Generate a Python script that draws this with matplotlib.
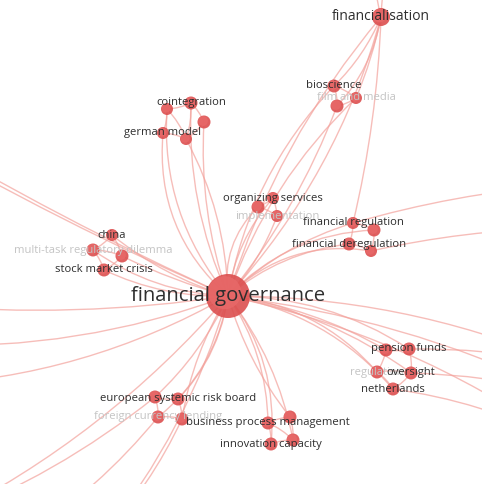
import matplotlib
matplotlib.use('Agg')
import matplotlib.pyplot as plt
from matplotlib.patches import Circle, PathPatch
from matplotlib.path import Path
import numpy as np

# VOSviewer-style map coordinates (screen units, y grows downwards)
labels = ['financial governance', 'financialisation', 'bioscience', 'film and media', '',
          'cointegration', '', '', 'german model', '',
          'organizing services', '', 'implementation',
          'financial regulation', '', 'financial deregulation', '',
          'china', 'multi-task regulatory dilemma', '', 'stock market crisis',
          'pension funds', '', 'regulation', 'oversight', 'netherlands',
          'european systemic risk board', '', 'foreign currency lending', '',
          'business process management', '', 'innovation capacity', '']
node_x = [228, 381, 334, 356, 337,
          191, 167, 204, 163, 186,
          273, 258, 277,
          353, 374, 349, 371,
          112, 93, 122, 104,
          409, 386, 377, 411, 393,
          178, 155, 158, 182,
          268, 290, 271, 293]
node_y = [296, 17, 86, 98, 106,
          103, 109, 122, 133, 139,
          198, 207, 216,
          223, 230, 244, 251,
          235, 250, 256, 270,
          349, 350, 372, 373, 389,
          399, 397, 417, 419,
          423, 417, 444, 440]
node_weight = [22, 9, 6.5, 6, 6.5,
               6.5, 6, 6.5, 6, 6,
               6, 6.5, 6,
               6, 6.5, 6.5, 6,
               6, 6.5, 6.5, 6.5,
               6.5, 6.5, 6.5, 6.5, 6.5,
               6.5, 6.5, 6.5, 6.5,
               6.5, 6.5, 6.5, 6.5]
faded = {'film and media', 'implementation', 'multi-task regulatory dilemma',
         'regulation', 'foreign currency lending'}

# items outside the visible window (their links still cross the frame)
hidden_x = [-100, -100, -80, -80, -80, -60, 100, 370, 392, 560, 560, 560, 560, 560, 20]
hidden_y = [124, 130, 305, 345, 385, 520, 540, -60, -60, 185, 228, 362, 392, 440, 540]

# links: (source, target, bend)
links = [
    (0, 1, 0.10), (0, 1, -0.12), (0, 2, 0.15), (0, 3, 0.12), (0, 4, -0.08),
    (0, 5, 0.12), (0, 6, 0.2), (0, 7, 0.1), (0, 8, 0.25), (0, 9, -0.12),
    (0, 10, 0.15), (0, 11, 0.25), (0, 12, -0.1),
    (0, 13, 0.12), (0, 14, 0.2), (0, 15, 0.15), (0, 16, 0.25),
    (0, 17, 0.1), (0, 18, 0.15), (0, 19, 0.05), (0, 20, 0.12),
    (0, 21, 0.15), (0, 22, 0.1), (0, 23, 0.2), (0, 24, 0.12), (0, 25, 0.18),
    (0, 26, 0.15), (0, 27, 0.1), (0, 28, 0.2), (0, 29, -0.1),
    (0, 30, 0.15), (0, 31, -0.1), (0, 32, 0.2), (0, 33, 0.12),
    (0, 34, 0.03), (0, 35, 0.03), (0, 36, 0.06), (0, 37, 0.1), (0, 38, 0.12),
    (0, 39, 0.1), (0, 40, 0.1), (0, 45, 0.1), (0, 46, 0.08), (0, 47, 0.1),
    (1, 2, 0.1), (1, 4, 0.15), (1, 3, 0.05), (1, 41, 0.05), (1, 42, 0.05), (1, 13, 0.05),
    (2, 3, 0.1), (2, 4, 0.1), (3, 4, 0.1),
    (5, 6, 0.1), (5, 7, 0.1), (6, 8, 0.1), (7, 9, 0.1), (8, 9, 0.1), (5, 9, 0.1), (6, 9, 0.1),
    (10, 11, 0.1), (10, 12, 0.1), (11, 12, 0.1),
    (13, 14, 0.1), (13, 15, 0.1), (14, 16, 0.1), (15, 16, 0.1), (13, 43, 0.05), (16, 44, 0.05),
    (17, 18, 0.1), (17, 19, 0.1), (18, 20, 0.1), (19, 20, 0.1), (18, 19, 0.1),
    (21, 22, 0.1), (21, 24, 0.1), (22, 23, 0.1), (23, 25, 0.1), (24, 25, 0.1), (23, 24, 0.1),
    (21, 45, 0.05), (24, 46, 0.05), (25, 47, 0.08),
    (26, 27, 0.1), (26, 29, 0.1), (27, 28, 0.1), (28, 29, 0.1), (27, 39, 0.08),
    (28, 48, 0.08), (29, 40, 0.08),
    (30, 31, 0.1), (30, 32, 0.1), (31, 33, 0.1), (32, 33, 0.1), (30, 33, 0.1),
]

all_x = node_x + hidden_x
all_y = node_y + hidden_y

fig = plt.figure(figsize=(4.82, 4.84), dpi=100)
ax = fig.add_axes([0, 0, 1, 1])
ax.set_xlim(0, 482)
ax.set_ylim(484, 0)
ax.axis('off')

# curved links, drawn as quadratic beziers
for s, t, b in links:
    x0, y0, x1, y1 = all_x[s], all_y[s], all_x[t], all_y[t]
    dx, dy = x1 - x0, y1 - y0
    cx = (x0 + x1) / 2 + b * dy
    cy = (y0 + y1) / 2 - b * dx
    p = Path([(x0, y0), (cx, cy), (x1, y1)], [Path.MOVETO, Path.CURVE3, Path.CURVE3])
    ax.add_patch(PathPatch(p, fc='none', ec='#f3a29c', lw=1.0, alpha=0.7, zorder=1))

# nodes with a soft shading
for x, y, r in zip(node_x, node_y, node_weight):
    ax.add_patch(Circle((x, y), r, color='#dc4f4f', alpha=0.9, zorder=2, lw=0))
    ax.add_patch(Circle((x - r * 0.15, y - r * 0.15), r * 0.75, color='#e96a6a', alpha=0.8, zorder=2, lw=0))

for lab, x, y, r in zip(labels, node_x, node_y, node_weight):
    if not lab:
        continue
    if lab == 'financial governance':
        fs = 14.6
    elif lab == 'financialisation':
        fs = 10
    else:
        fs = 8.1
    col = '#c4c4c4' if lab in faded else '#2e2e2e'
    ax.text(x, y, lab, ha='center', va='center', fontsize=fs, color=col,
            family='Open Sans', zorder=3)

plt.savefig('out.png', dpi=100)
plt.close(fig)
